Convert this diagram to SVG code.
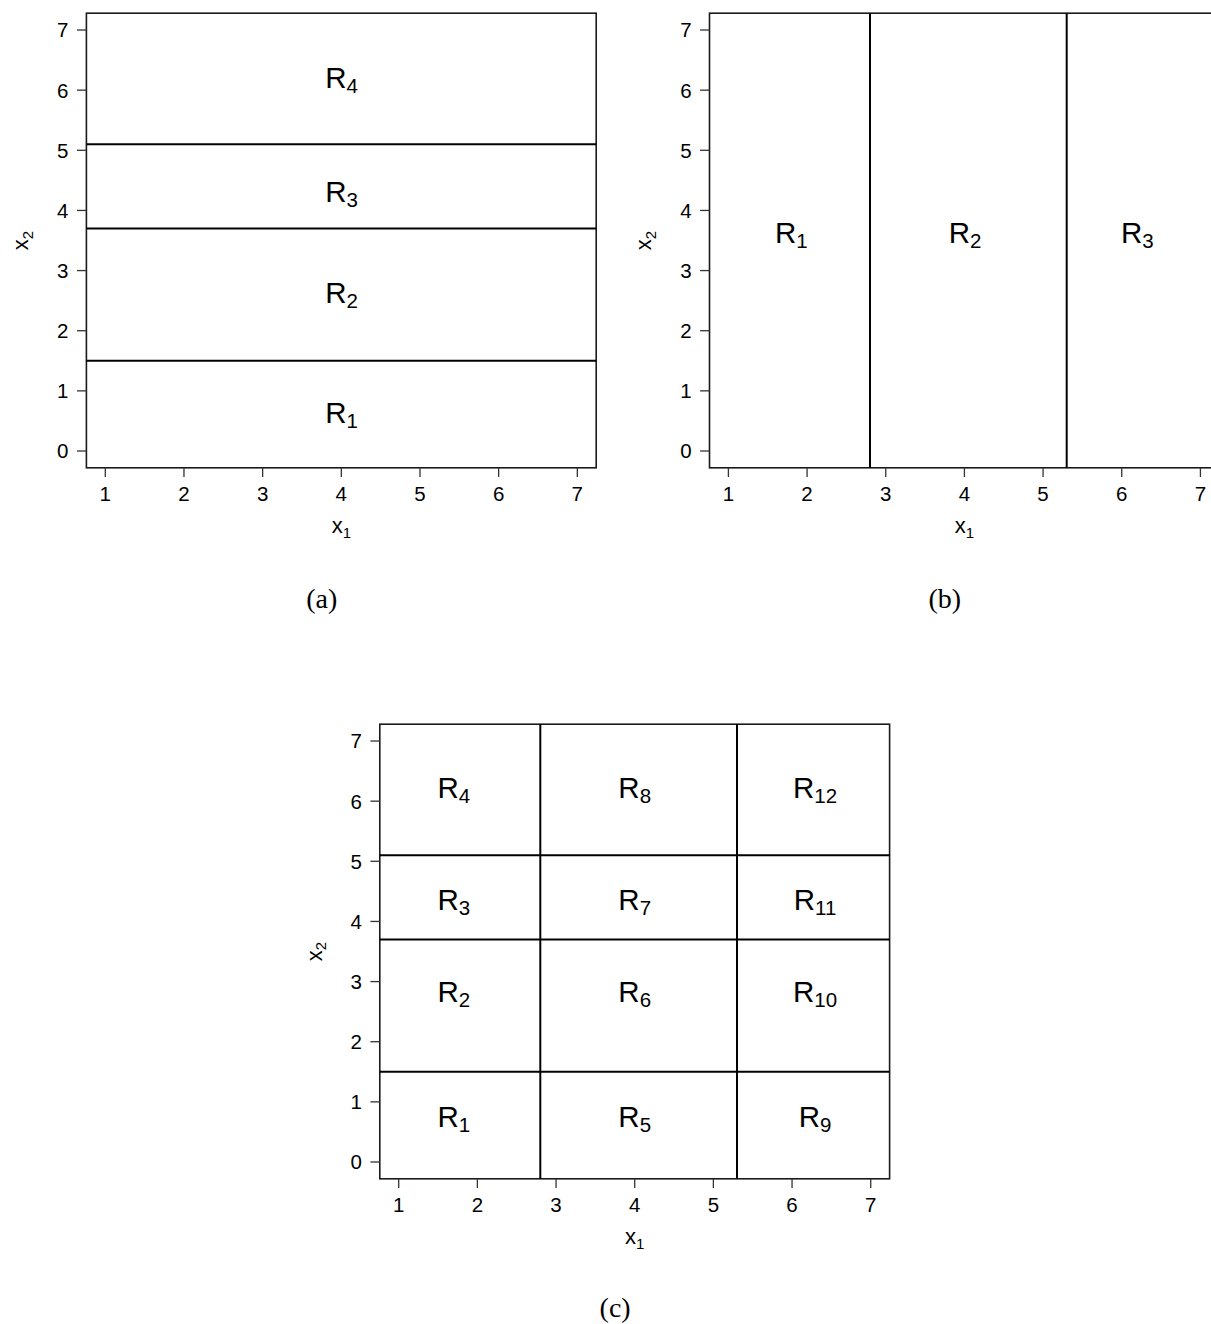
<svg xmlns="http://www.w3.org/2000/svg" width="1211" height="1324" viewBox="0 0 1211 1324">
<style>
  .box{fill:none;stroke:#1a1a1a;stroke-width:1.6}
  .split{stroke:#000;stroke-width:2;fill:none}
  .tick{stroke:#333;stroke-width:1.3}
  .tl{font-family:"Liberation Sans",Arial,sans-serif;font-size:20.5px;fill:#000}
  .tly{text-anchor:end}
  .tlx{text-anchor:middle}
  .ax{font-family:"Liberation Sans",Arial,sans-serif;font-size:22px;fill:#000;text-anchor:middle}
  .axs{font-size:15px}
  .reg{font-family:"Liberation Sans",Arial,sans-serif;font-size:29.5px;fill:#000;text-anchor:middle}
  .rs{font-size:20.5px}
  .cap{font-family:"Liberation Serif","Times New Roman",serif;font-size:28px;fill:#000;text-anchor:middle}
</style>
<defs>
  <g id="axes">
    <rect class="box" x="86.4" y="13.2" width="509.8" height="454.6"/>
    <g class="tick">
      <line x1="77" y1="451" x2="86.4" y2="451"/>
      <line x1="77" y1="390.86" x2="86.4" y2="390.86"/>
      <line x1="77" y1="330.72" x2="86.4" y2="330.72"/>
      <line x1="77" y1="270.58" x2="86.4" y2="270.58"/>
      <line x1="77" y1="210.44" x2="86.4" y2="210.44"/>
      <line x1="77" y1="150.3" x2="86.4" y2="150.3"/>
      <line x1="77" y1="90.16" x2="86.4" y2="90.16"/>
      <line x1="77" y1="30.02" x2="86.4" y2="30.02"/>
      <line x1="105.3" y1="467.8" x2="105.3" y2="477"/>
      <line x1="183.97" y1="467.8" x2="183.97" y2="477"/>
      <line x1="262.64" y1="467.8" x2="262.64" y2="477"/>
      <line x1="341.31" y1="467.8" x2="341.31" y2="477"/>
      <line x1="419.98" y1="467.8" x2="419.98" y2="477"/>
      <line x1="498.65" y1="467.8" x2="498.65" y2="477"/>
      <line x1="577.32" y1="467.8" x2="577.32" y2="477"/>
    </g>
    <g class="tl tly">
      <text x="68.5" y="458.3">0</text>
      <text x="68.5" y="398.2">1</text>
      <text x="68.5" y="338">2</text>
      <text x="68.5" y="277.9">3</text>
      <text x="68.5" y="217.7">4</text>
      <text x="68.5" y="157.6">5</text>
      <text x="68.5" y="97.5">6</text>
      <text x="68.5" y="37.3">7</text>
    </g>
    <g class="tl tlx">
      <text x="105.3" y="500.5">1</text>
      <text x="183.97" y="500.5">2</text>
      <text x="262.64" y="500.5">3</text>
      <text x="341.31" y="500.5">4</text>
      <text x="419.98" y="500.5">5</text>
      <text x="498.65" y="500.5">6</text>
      <text x="577.32" y="500.5">7</text>
    </g>
    <text class="ax" x="341.3" y="533.3">x<tspan class="axs" dy="4.5">1</tspan></text>
    <text class="ax" transform="translate(28.3,240.5) rotate(-90)" x="0" y="0">x<tspan class="axs" dy="4.5">2</tspan></text>
  </g>
</defs>

<g id="panel-a">
  <use href="#axes"/>
  <g id="splits-a">
    <line class="split" x1="86.4" y1="144.3" x2="596.2" y2="144.3"/>
    <line class="split" x1="86.4" y1="228.5" x2="596.2" y2="228.5"/>
    <line class="split" x1="86.4" y1="360.8" x2="596.2" y2="360.8"/>
  </g>
  <g id="labels-a">
    <text class="reg" x="341.5" y="87.7">R<tspan class="rs" dy="5">4</tspan></text>
    <text class="reg" x="341.5" y="201.7">R<tspan class="rs" dy="5">3</tspan></text>
    <text class="reg" x="341.5" y="303.3">R<tspan class="rs" dy="5">2</tspan></text>
    <text class="reg" x="341.5" y="423.3">R<tspan class="rs" dy="5">1</tspan></text>
  </g>
  <text class="cap" x="321.7" y="608.3">(a)</text>
</g>

<g id="panel-b" transform="translate(623.1,0)">
  <use href="#axes"/>
  <g id="splits-b">
    <line class="split" x1="246.9" y1="13.2" x2="246.9" y2="467.8"/>
    <line class="split" x1="443.6" y1="13.2" x2="443.6" y2="467.8"/>
  </g>
  <g id="labels-b">
    <text class="reg" x="168.3" y="243.3">R<tspan class="rs" dy="5">1</tspan></text>
    <text class="reg" x="341.9" y="243.3">R<tspan class="rs" dy="5">2</tspan></text>
    <text class="reg" x="514.3" y="243.3">R<tspan class="rs" dy="5">3</tspan></text>
  </g>
  <text class="cap" x="321.7" y="608.3">(b)</text>
</g>

<g id="panel-c" transform="translate(293.4,711)">
  <use href="#axes"/>
  <g id="splits-c">
    <line class="split" x1="86.4" y1="144.3" x2="596.2" y2="144.3"/>
    <line class="split" x1="86.4" y1="228.5" x2="596.2" y2="228.5"/>
    <line class="split" x1="86.4" y1="360.8" x2="596.2" y2="360.8"/>
    <line class="split" x1="246.9" y1="13.2" x2="246.9" y2="467.8"/>
    <line class="split" x1="443.6" y1="13.2" x2="443.6" y2="467.8"/>
  </g>
  <g id="labels-c">
    <text class="reg" x="160.5" y="86.7">R<tspan class="rs" dy="5">4</tspan></text>
    <text class="reg" x="160.5" y="199">R<tspan class="rs" dy="5">3</tspan></text>
    <text class="reg" x="160.5" y="291.3">R<tspan class="rs" dy="5">2</tspan></text>
    <text class="reg" x="160.5" y="415.7">R<tspan class="rs" dy="5">1</tspan></text>
    <text class="reg" x="341.3" y="86.7">R<tspan class="rs" dy="5">8</tspan></text>
    <text class="reg" x="341.3" y="199">R<tspan class="rs" dy="5">7</tspan></text>
    <text class="reg" x="341.3" y="291.3">R<tspan class="rs" dy="5">6</tspan></text>
    <text class="reg" x="341.3" y="415.7">R<tspan class="rs" dy="5">5</tspan></text>
    <text class="reg" x="521.6" y="86.7">R<tspan class="rs" dy="5">12</tspan></text>
    <text class="reg" x="521.6" y="199">R<tspan class="rs" dy="5">11</tspan></text>
    <text class="reg" x="521.6" y="291.3">R<tspan class="rs" dy="5">10</tspan></text>
    <text class="reg" x="521.6" y="415.7">R<tspan class="rs" dy="5">9</tspan></text>
  </g>
  <text class="cap" x="321.7" y="606">(c)</text>
</g>
</svg>
